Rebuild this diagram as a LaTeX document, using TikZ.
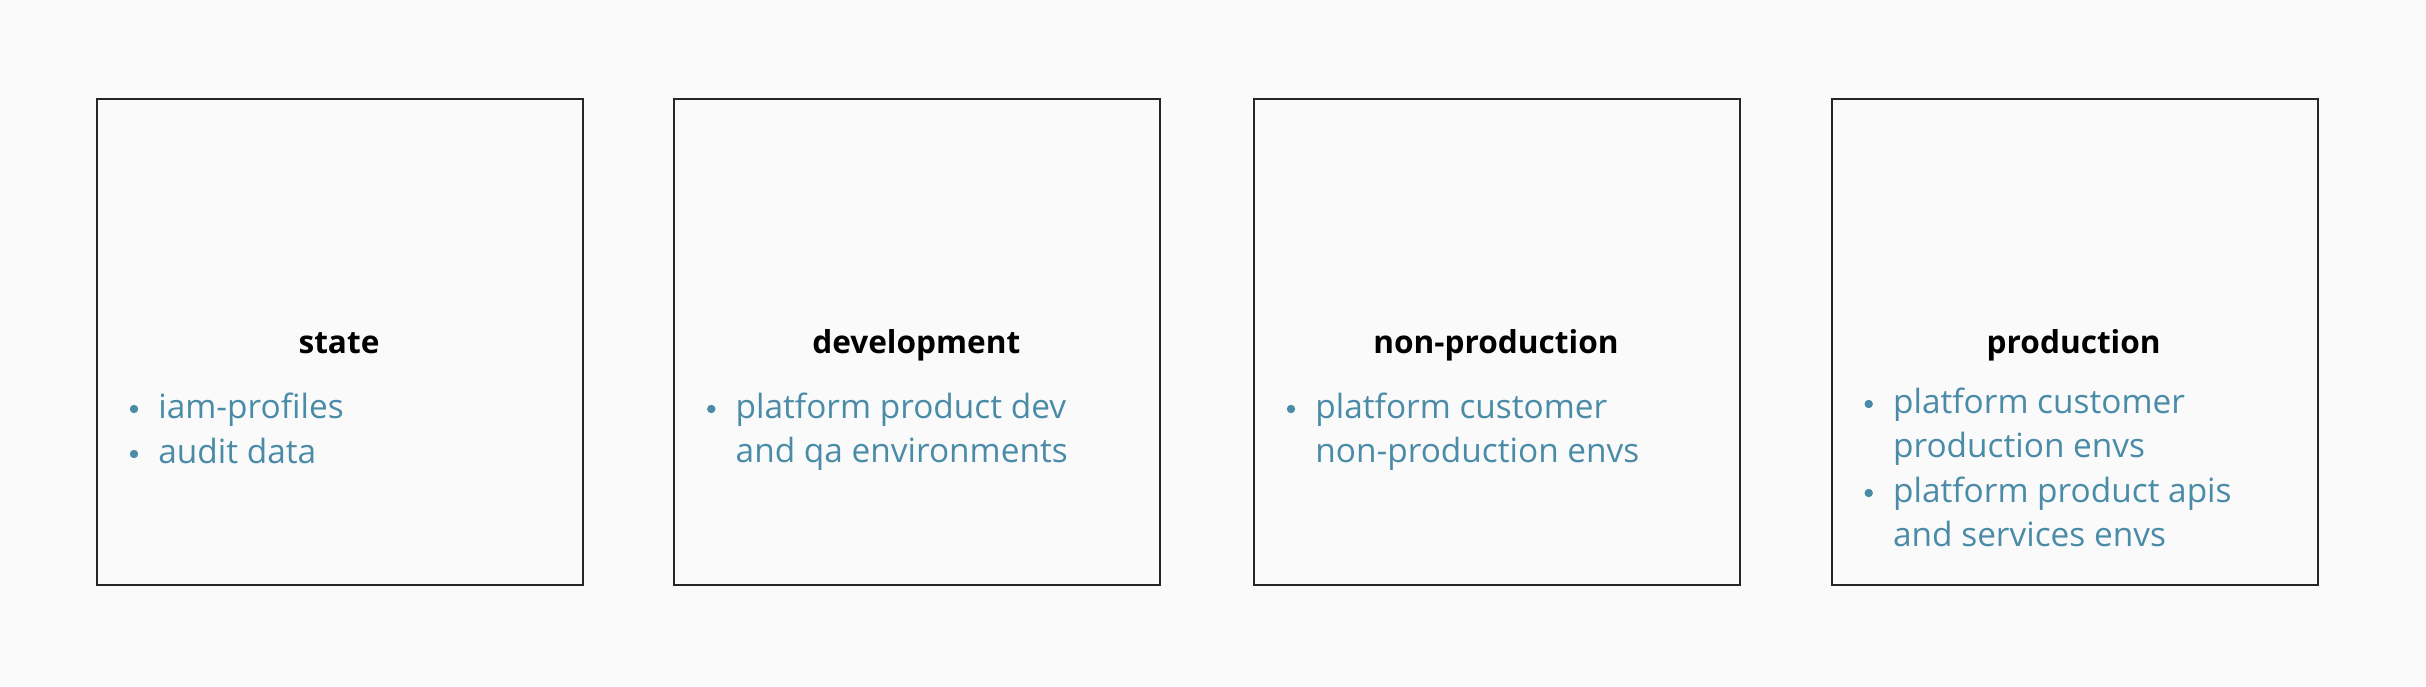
\documentclass[tikz,border=0pt]{standalone}
\usepackage{fontspec}
\setmainfont{Open Sans}[Ligatures={NoCommon}]
\definecolor{bg}{HTML}{FAFAFA}
\definecolor{boxline}{HTML}{262626}
\definecolor{itemcol}{HTML}{4A8BA8}
\tikzset{
  panel/.style={draw=boxline, line width=0.9pt, fill=bg, minimum width=243pt, minimum height=243pt, inner sep=0pt, anchor=north west},
  title/.style={font=\fontsize{15.8}{20}\selectfont\bfseries, text=black, anchor=base, inner sep=0pt},
  item/.style={font=\fontsize{16.7}{22.25}\selectfont, text=itemcol, anchor=base west, align=left, inner sep=0pt},
  dot/.style={circle, fill=itemcol, minimum size=4.2pt, inner sep=0pt}
}
\begin{document}
\begin{tikzpicture}[x=0.5pt,y=-0.5pt]
\fill[bg] (0,0) rectangle (2426,686);
\useasboundingbox (0,0) rectangle (2426,686);
% boxes
\node[panel] (b1) at (96,98) {};
\node[panel] (b2) at (673.3,98) {};
\node[panel] (b3) at (1253,98) {};
\node[panel] (b4) at (1830.7,98) {};
% titles
\node[title] (t1) at (339,353) {state};
\node[title] (t2) at (916.3,353) {development};
\node[title] (t3) at (1496,353) {non-production};
\node[title] (t4) at (2073.7,353) {production};
% items box 1 (anchor = baseline of last line)
\node[dot] (d11) at (134,409) {};
\node[item] (i11) at (158,418) {iam-profiles};
\node[dot] (d12) at (134,454) {};
\node[item] (i12) at (158,463) {audit data};
% box 2
\node[dot] (d21) at (711.3,409) {};
\node[item] (i21) at (735.3,462.5) {platform product dev\\and qa environments};
% box 3
\node[dot] (d31) at (1291,409) {};
\node[item] (i31) at (1315,462.5) {platform customer\\non-production envs};
% box 4
\node[dot] (d41) at (1868.7,404) {};
\node[item] (i41) at (1892.7,457.5) {platform customer\\production envs};
\node[dot] (d42) at (1868.7,493) {};
\node[item] (i42) at (1892.7,546.5) {platform product apis\\and services envs};
\end{tikzpicture}
\end{document}
